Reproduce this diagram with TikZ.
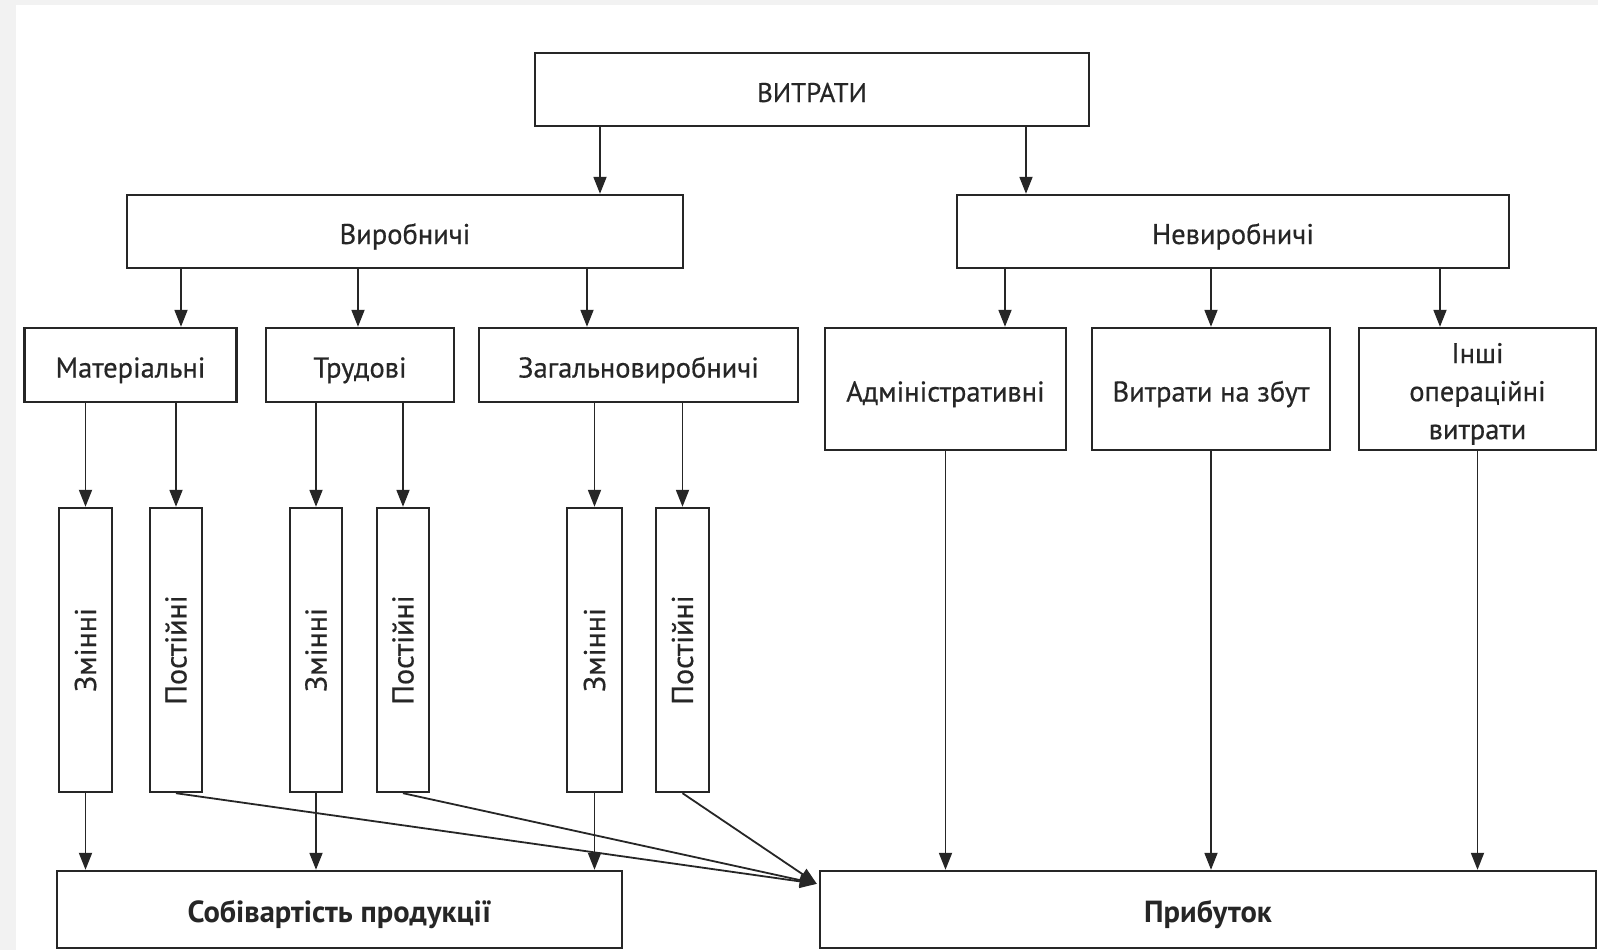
\documentclass[tikz,border=0pt]{standalone}
\usepackage{fontspec}
\setsansfont{PT Sans}[UprightFeatures={FakeBold=0.5}]
\usetikzlibrary{arrows.meta}
\newcommand*{\rowh }{73pt}
\newcommand*{\tallh}{122pt}
\newcommand*{\colh }{284pt}
\newcommand*{\both }{77pt}
\definecolor{framegray}{HTML}{F2F2F2}
\definecolor{inkgray}{HTML}{262626}
\tikzset{
    costbox/.style={draw=inkgray, line width=2.4pt, inner sep=0pt, align=center, text=inkgray},
    oneline/.style={costbox, text height=26pt, text depth=1pt},
    costcol/.style={costbox, minimum height=\colh, font=\sffamily\fontsize{30}{36}\selectfont},
    resbox/.style={oneline, minimum height=\both, font=\sffamily\bfseries\fontsize{30.5}{38}\selectfont},
    arr/.style={draw=inkgray, line width=1.8pt, -{Triangle[length=17pt,width=13pt]}}
}

\begin{document}
\begin{tikzpicture}[x=1pt, y=-1pt, font=\sffamily\fontsize{28.5}{38}\selectfont]
    \fill [framegray] (0,0) rectangle (1598,950);
    \fill [white] (16,5) rectangle (1598,950);
    \useasboundingbox (0,0) rectangle (1598,950);
        % levels
        \node [oneline, minimum width=554pt, minimum height=\rowh, font=\sffamily\fontsize{27}{38}\selectfont] (vytraty) at ( 812, 89.5) {ВИТРАТИ};
        \node [oneline, minimum width=556pt, minimum height=\rowh] (vyrob)   at ( 405,231.5) {Виробничі};
        \node [oneline, minimum width=552pt, minimum height=\rowh] (nevyrob) at (1233,231.5) {Невиробничі};
        \node [oneline, minimum width=212pt, minimum height=74pt] (mater)  at (130.5,365) {Матеріальні};
        \node [oneline, minimum width=188pt, minimum height=74pt] (trud)   at ( 360,365) {Трудові};
        \node [oneline, minimum width=319pt, minimum height=74pt] (zagal)  at (638.5,365) {Загальновиробничі};
        \node [oneline, minimum width=241pt, minimum height=\tallh] (admin) at (945.5,389) {Адміністративні};
        \node [oneline, minimum width=238pt, minimum height=\tallh] (zbut)  at (1211,389) {Витрати на збут};
        \node [costbox, minimum width=237pt, minimum height=\tallh] (inshi) at (1477.5,389) {\rule{0pt}{30pt}Інші\\операційні\\витрати};
        % columns
        \node [costcol, minimum width=53pt] (zmin1) at (85.5,650) {\rotatebox{90}{Змінні}};
        \node [costcol, minimum width=52pt] (post1) at ( 176,650) {\rotatebox{90}{Постійні}};
        \node [costcol, minimum width=52pt] (zmin2) at ( 316,650) {\rotatebox{90}{Змінні}};
        \node [costcol, minimum width=52pt] (post2) at ( 403,650) {\rotatebox{90}{Постійні}};
        \node [costcol, minimum width=55pt] (zmin3) at (594.5,650) {\rotatebox{90}{Змінні}};
        \node [costcol, minimum width=53pt] (post3) at (682.5,650) {\rotatebox{90}{Постійні}};
        % results
        \node [resbox, minimum width=565pt] (sobiv)    at (339.5,909.5) {Собівартість продукції};
        \node [resbox, minimum width=776pt] (prybutok) at (1208,909.5) {Прибуток};
        \coordinate (pin) at ([xshift=-2pt, yshift=-14pt]prybutok.north west);
        % arrows
        \draw [arr] (vytraty.south -|  600,0) -- (vyrob.north   -|  600,0);
        \draw [arr] (vytraty.south -| 1026,0) -- (nevyrob.north -| 1026,0);
        \draw [arr] (vyrob.south -| 181,0) -- (mater.north -| 181,0);
        \draw [arr] (vyrob.south -| 358,0) -- (trud.north  -| 358,0);
        \draw [arr] (vyrob.south -| 587,0) -- (zagal.north -| 587,0);
        \draw [arr] (nevyrob.south -| 1005,0) -- (admin.north -| 1005,0);
        \draw [arr] (nevyrob.south -| 1211,0) -- (zbut.north  -| 1211,0);
        \draw [arr] (nevyrob.south -| 1440,0) -- (inshi.north -| 1440,0);
        \draw [arr] (zmin1.north |- mater.south) -- (zmin1.north);
        \draw [arr] (post1.north |- mater.south) -- (post1.north);
        \draw [arr] (zmin2.north |- trud.south)  -- (zmin2.north);
        \draw [arr] (post2.north |- trud.south)  -- (post2.north);
        \draw [arr] (zmin3.north |- zagal.south) -- (zmin3.north);
        \draw [arr] (post3.north |- zagal.south) -- (post3.north);
        \draw [arr] (zmin1.south) -- (zmin1.south |- sobiv.north);
        \draw [arr] (zmin2.south) -- (zmin2.south |- sobiv.north);
        \draw [arr] (zmin3.south) -- (zmin3.south |- sobiv.north);
        \draw [arr] (post1.south) -- (pin);
        \draw [arr] (post2.south) -- (pin);
        \draw [arr] (post3.south) -- (pin);
        \draw [arr] (admin.south) -- (admin.south |- prybutok.north);
        \draw [arr] (zbut.south)  -- (zbut.south  |- prybutok.north);
        \draw [arr] (inshi.south) -- (inshi.south |- prybutok.north);
\end{tikzpicture}
\end{document}
